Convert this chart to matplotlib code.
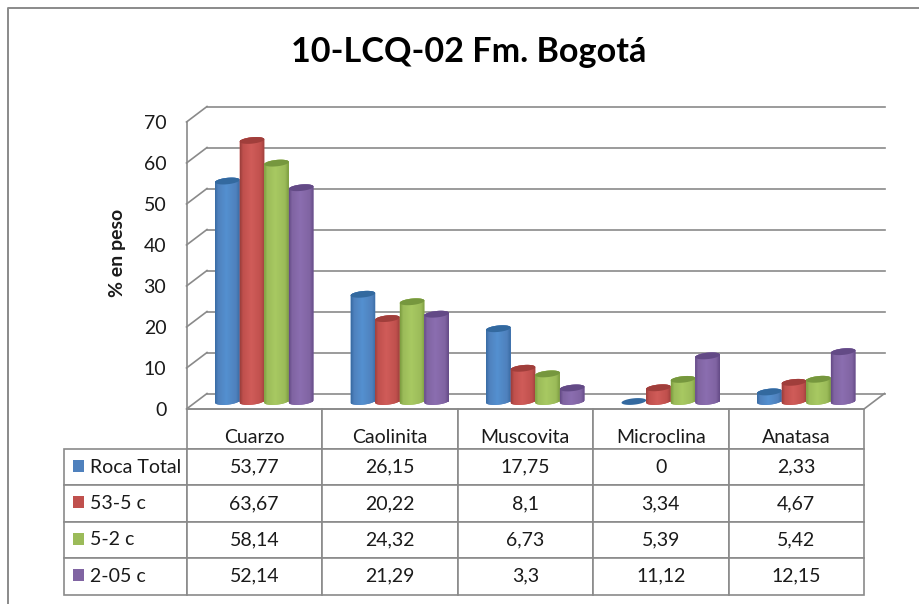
import numpy as np
import matplotlib
matplotlib.use("Agg")
import matplotlib.pyplot as plt
from matplotlib.patches import Polygon, Rectangle
from matplotlib.colors import LinearSegmentedColormap
from matplotlib.transforms import Affine2D

categories = ["Cuarzo", "Caolinita", "Muscovita", "Microclina", "Anatasa"]
series_names = ["Roca Total", "53-5 c", "5-2 c", "2-05 c"]
roca_total = [53.77, 26.15, 17.75, 0, 2.33]
c53_5 = [63.67, 20.22, 8.1, 3.34, 4.67]
c5_2 = [58.14, 24.32, 6.73, 5.39, 5.42]
c2_05 = [52.14, 21.29, 3.3, 11.12, 12.15]
all_series = [roca_total, c53_5, c5_2, c2_05]
colors = ["#4F81BD", "#C0504D", "#9BBB59", "#8064A2"]
edge_dark = ["#386BA3", "#9C3F3C", "#7C9C40", "#644A86"]
center_light = ["#5490D0", "#D05C59", "#A8C962", "#8B6EB0"]
cap_dark = ["#33699F", "#A03E3B", "#76973E", "#634A86"]

W, H = 919, 604
plt.rcParams["font.family"] = ["Lato", "DejaVu Sans"]
GRAY = "#8A8A8A"
TXT = "#1a1a1a"

fig = plt.figure(figsize=(W / 100, H / 100), dpi=100, facecolor="white")
X0, X1, YB, YT = 186.5, 864.0, 409.0, 122.0
ax = fig.add_axes([X0 / W, 1 - YB / H, (X1 - X0) / W, (YB - YT) / H])
ax.set_xlim(0, 5)
ax.set_ylim(0, 70)
ax.patch.set_alpha(0)
px = Affine2D().scale(1 / W, -1 / H).translate(0, 1) + fig.transFigure

ux = 5 / (X1 - X0)          # data units per pixel, x
uy = 70 / (YB - YT)         # data units per pixel, y
dx, dy = 20.5 * ux, 15.5 * uy

# walls
for v in range(0, 80, 10):
    ax.plot([dx, 5 + dx], [v + dy, v + dy], color=GRAY, lw=1.2, clip_on=False, zorder=1)
    ax.plot([0, dx], [v, v + dy], color=GRAY, lw=1.2, clip_on=False, zorder=1)
ax.plot([5, 5 + dx], [0, dy], color=GRAY, lw=1.2, clip_on=False, zorder=1)

for s in ["top", "right"]:
    ax.spines[s].set_visible(False)
for s in ["left", "bottom"]:
    ax.spines[s].set_color(GRAY)
    ax.spines[s].set_linewidth(1.2)
ax.set_xticks([])
ax.set_yticks(range(0, 80, 10))
ax.tick_params(axis="y", length=0, pad=14.5, labelsize=14, labelcolor=TXT)
for t in ax.get_yticklabels():
    t.set_verticalalignment("center_baseline")

# cylinders
bw = 24.6 * ux
base = 7.5 * uy
a, b, shear = bw / 2, 3.2 * uy, 1.2 * uy / (bw / 2)
t_up = np.linspace(0, np.pi, 40)
t_low = np.linspace(np.pi, 2 * np.pi, 40)
t_all = np.linspace(0, 2 * np.pi, 80)


def ellipse(cx, cy, t):
    return np.column_stack([cx + a * np.cos(t), cy + b * np.sin(t) + shear * a * np.cos(t)])


for c in range(len(categories)):
    for k, vals in enumerate(all_series):
        cx = c + 0.5 + 10 * ux + (k - 1.5) * bw
        v = vals[c]
        z = 5 + c * 10 + k
        if v == 0:
            ax.add_patch(Polygon(ellipse(cx, base, t_all), closed=True, fc=cap_dark[k], ec="none",
                                 clip_on=False, zorder=z))
            continue
        ax.bar(cx, v, width=bw, bottom=base, color=colors[k], zorder=z, clip_on=False)
        outline = np.vstack([ellipse(cx, base, t_low), ellipse(cx, base + v, t_up)])
        poly = Polygon(outline, closed=True, fc=colors[k], ec="none", clip_on=False, zorder=z)
        ax.add_patch(poly)
        cmap = LinearSegmentedColormap.from_list(
            "c", [(0, edge_dark[k]), (0.12, colors[k]), (0.45, center_light[k]),
                  (0.85, colors[k]), (1, edge_dark[k])])
        im = ax.imshow(np.linspace(0, 1, 64)[None, :], cmap=cmap, aspect="auto", zorder=z + 0.1,
                       extent=[cx - a, cx + a, base - 2 * b, base + v + 2 * b], clip_on=True)
        im.set_clip_path(poly)
        ax.add_patch(Polygon(ellipse(cx, base + v, t_all), closed=True, fc=cap_dark[k], ec="none",
                             clip_on=False, zorder=z + 0.2))
ax.set_xlim(0, 5)
ax.set_ylim(0, 70)

# data table: cell sizes are axes fractions, so the bbox of the value cells needs no rescale
fmt = lambda v: f"{v:g}".replace(".", ",")
cell_text = [[fmt(v) for v in vals] for vals in all_series]
TX0, TY0, TY1, HEAD = 64.0, 409.0, 594.5, 40.0
row_h = (TY1 - TY0 - HEAD) / len(series_names)
axw, axh = X1 - X0, YB - YT
label_w = (X0 - TX0) / axw
tbl = ax.table(cellText=cell_text, rowLabels=series_names, colLabels=categories,
               cellLoc="center", rowLoc="left",
               bbox=[0, (YB - TY1) / axh, 1, (TY1 - TY0) / axh])
tbl._autoColumns.clear()    # keep the row-label column at its own width
tbl.auto_set_font_size(False)
tbl.set_fontsize(14)
for (r, c), cell in tbl.get_celld().items():
    cell.set_edgecolor(GRAY)
    cell.set_linewidth(1.2)
    cell.set_width(0.2 if c >= 0 else label_w)
    cell.set_height((HEAD if r == 0 else row_h) / axh)
    cell.get_text().set_color(TXT)
    cell.set_clip_on(False)
    if c == -1:
        cell.PAD = 0.21
    if r == 0:
        cell.get_text().set_verticalalignment("top")

for k, yc in enumerate([465.5, 502.0, 538.7, 574.7]):
    fig.add_artist(Rectangle((72.5, yc - 6), 11.5, 12, fc=colors[k], ec="none", transform=px))

# text and chart frame
fig.text(469 / W, 1 - 52 / H, "10-LCQ-02 Fm. Bogotá", ha="center", va="center",
         fontsize=24.6, fontweight="bold", color="black")
fig.text(117 / W, 1 - 253 / H, "% en peso", rotation=90, ha="center", va="center",
         fontsize=14, fontweight="bold", color=TXT)
fig.add_artist(plt.Line2D([8.3, 8.3, 919], [604, 7.5, 7.5], color=GRAY, lw=1.4, transform=px))

fig.savefig("out.png", dpi=100, facecolor="white")
